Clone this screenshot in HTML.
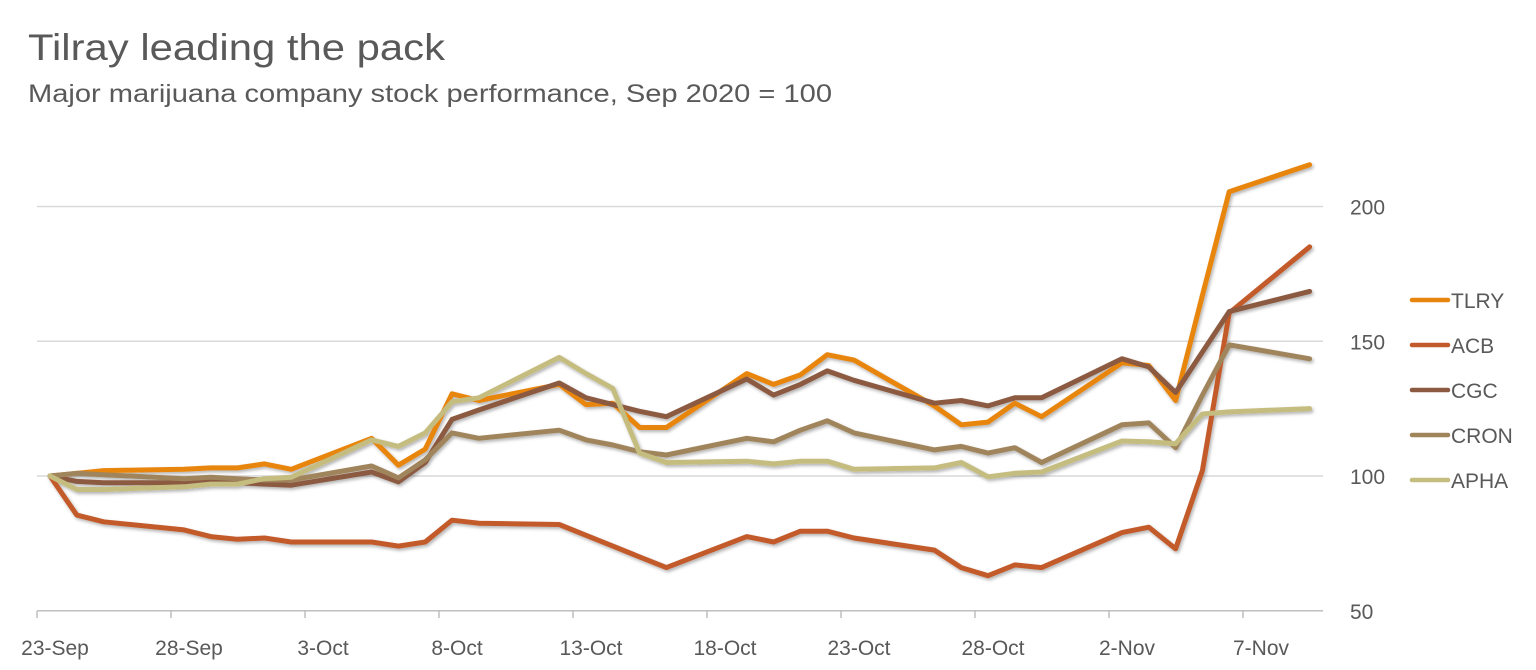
<!DOCTYPE html>
<html><head><meta charset="utf-8"><style>
body{margin:0;background:#fff;width:1536px;height:670px;overflow:hidden;font-family:"Liberation Sans",sans-serif;}
</style></head><body>
<svg width="1536" height="670" style="position:absolute;left:0;top:0">
<defs><filter id="sh" x="-5%" y="-5%" width="110%" height="120%"><feDropShadow dx="1.5" dy="2" stdDeviation="1.5" flood-color="#000" flood-opacity="0.3"/></filter></defs>
<text x="28" y="60" font-size="37" fill="#595959" textLength="417" lengthAdjust="spacingAndGlyphs">Tilray leading the pack</text>
<text x="28" y="102" font-size="25" fill="#595959" textLength="804" lengthAdjust="spacingAndGlyphs">Major marijuana company stock performance, Sep 2020 = 100</text>
<g id="grid"></g><g id="xaxis"></g><g id="yaxis"></g><g id="series" filter="url(#sh)"></g><g id="legend"></g>
</svg>
<script>
const days=[0,1,2,5,6,7,8,9,12,13,14,15,16,19,20,21,22,23,26,27,28,29,30,33,34,35,36,37,40,41,42,43,44,47];
const xTickLabels=["23-Sep","28-Sep","3-Oct","8-Oct","13-Oct","18-Oct","23-Oct","28-Oct","2-Nov","7-Nov"];
const yTicks=[50,100,150,200];
const seriesNames=["TLRY","ACB","CGC","CRON","APHA"];
const seriesColors=["#e8850f","#c35a2b","#8b5a40","#a0855b","#c5bd80"];
const tlry=[100,101,102,102.5,103,103,104.5,102.5,114,104,110,130.5,128,134,126.5,127,118,118,138,134,137.5,145,143,126,119,120,127,122,142,141,128,167,205.5,215.5];
const acb=[100,85.5,83,80,77.5,76.5,77,75.5,75.5,74,75.5,83.6,82.5,82,78,74,70,66,77.5,75.5,79.5,79.5,77,72.5,66,63,67,66,79,81,73,102,160.5,185];
const cgc=[100,98,97.5,97.5,98,97.5,97,96.6,101.5,97.8,105,121,124.5,134.5,129,126.5,124,122,136,130,134,139,135.5,127,128,126,129,129,143.5,140.5,131,146,161,168.5];
const cron=[100,101,100.5,99,99.5,99,98.5,98.5,103.7,99.3,106,116,114,117,113.4,111.5,109,107.8,114,112.7,117,120.5,116,109.7,111,108.5,110.5,105,119,119.7,110.5,130,148.7,143.5];
const apha=[100,95,95,96,97,97,99,99.5,113.4,111,116,127.5,129,144,138,132.5,108.5,105,105.5,104.5,105.5,105.5,102.5,103,105,99.7,101,101.5,113,112.7,112,123,123.8,125];
const seriesData=[tlry,acb,cgc,cron,apha];
const NS="http://www.w3.org/2000/svg";
const xs=d=>50+d*26.8;
const ys=v=>476-(v-100)*2.695;
function mk(tag,attrs,parent,text){const e=document.createElementNS(NS,tag);for(const k in attrs)e.setAttribute(k,attrs[k]);if(text!==undefined)e.textContent=text;parent.appendChild(e);return e;}
const grid=document.getElementById('grid'),xa=document.getElementById('xaxis'),ya=document.getElementById('yaxis'),sg=document.getElementById('series'),lg=document.getElementById('legend');
yTicks.forEach(t=>{
  const l=mk('line',{x1:37,x2:1323,y1:ys(t),y2:ys(t),stroke:t===50?'#bfbfbf':'#d9d9d9','stroke-width':1.5},grid);
  
  
  const tx=mk('text',{x:1350,y:ys(t)+8,'font-size':21,fill:'#595959'},ya,String(t));
  
  
});
xTickLabels.forEach((lab,i)=>{
  const x=37+i*5*26.8;
  const tk=mk('line',{x1:x,x2:x,y1:611,y2:618,stroke:'#bfbfbf','stroke-width':1.5},xa);
  
  
  const tx=mk('text',{x:x+18,y:655,'font-size':21,fill:'#595959','text-anchor':'middle'},xa,lab);
  
  
});
seriesData.forEach((arr,si)=>{
  const pts=arr.map((v,i)=>xs(days[i]).toFixed(1)+','+ys(v).toFixed(1)).join(' ');
  const p=mk('polyline',{points:pts,fill:'none',stroke:seriesColors[si],'stroke-width':5,'stroke-linejoin':'round','stroke-linecap':'round'},sg);
  
  
  const y=300+si*45;
  const ll=mk('line',{x1:1412,x2:1448,y1:y,y2:y,stroke:seriesColors[si],'stroke-width':4.5,'stroke-linecap':'round'},lg);
  
  
  const lt=mk('text',{x:1451,y:y+8,'font-size':21,fill:'#595959'},lg,seriesNames[si]);
  
  
});
</script>
</body></html>
